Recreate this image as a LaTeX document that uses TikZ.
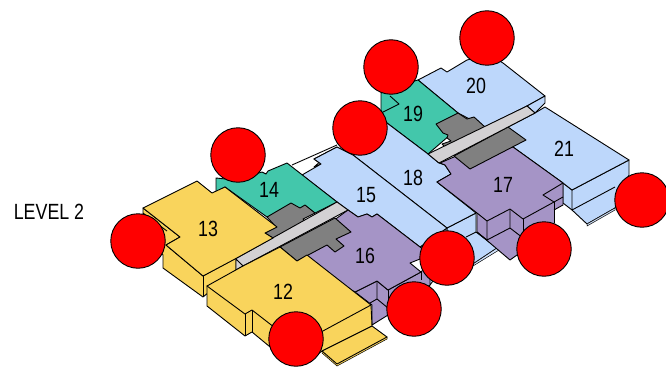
\documentclass[tikz,border=0pt]{standalone}
\usepackage{fontspec}
\setmainfont{Liberation Sans}
\newfontfamily\labelfont[FakeStretch=.81]{Liberation Sans}
\definecolor{unityellow}{HTML}{F9D45C}
\definecolor{unitteal}{HTML}{43C7AB}
\definecolor{unitblue}{HTML}{BDD7FB}
\definecolor{unitpurple}{HTML}{A594C6}
\definecolor{corridor}{HTML}{D3D1D3}
\definecolor{core}{HTML}{808080}
\tikzset{
  edge/.style={draw=black, line width=.9pt, line join=round},
  yellowpart/.style={edge, fill=unityellow},
  tealpart/.style={edge, fill=unitteal},
  bluepart/.style={edge, fill=unitblue},
  purplepart/.style={edge, fill=unitpurple},
  corepart/.style={edge, fill=core},
  corridorpart/.style={edge, fill=corridor},
  unitlabel/.style={inner sep=0pt, font=\labelfont\fontsize{22}{24}\selectfont},
  marker/.style={circle, draw=black, line width=.9pt, fill=red, minimum size=54.5pt, inner sep=0pt}
}
\begin{document}
\begin{tikzpicture}[x=1pt, y=-1pt]
\useasboundingbox (0,0) rectangle (666,369);
\node[unitlabel] (levellabel) at (49,212) {LEVEL 2};

\path[bluepart] (418,80)--(441,68)--(447,72)--(467,60)--(490,55)--(503,63)--(545,96)--(527,106)--(485,127)--(458,113)--cycle;
\path[bluepart] (545,96)--(545,103)--(535,113)--(527,106)--cycle;
\path[tealpart] (381,93)--(400,85)--(418,80)--(458,113)--(450,135)--(428,154)--(383,120)--(381,110)--cycle;
\draw[edge] (390,96)--(399,104)--(381,113);

\path[bluepart] (572,190)--(629,160)--(629,175)--(615,208)--(587,224)--(572,210)--(563,203)--(563,183)--cycle;
\draw[edge] (572,190)--(572,210)--(615,187);
\path[fill=unitblue!70!white, draw=black, line width=.5pt] (587,224)--(615,208)--(615,210)--(587,226)--cycle;
\path[bluepart] (535,113)--(545,107)--(629,160)--(572,190)--(563,183)--(513,147)--(508,127)--cycle;

\path[bluepart] (447,228)--(476,213)--(476,232)--(497,248)--(473,264)--(455,272)--(447,255)--cycle;
\draw[edge] (476,232)--(466,237);
\path[fill=unitblue!70!white, draw=black, line width=.5pt] (497,248)--(473,264)--(473,266)--(499,250)--cycle;
\path[bluepart] (353,155)--(383,120)--(428,154)--(439,163)--(445,165)--(451,174)--(437,182)--(476,213)--(447,228)--cycle;

\path[fill=unitpurple] (477,213)--(487,221)--(510,209)--(523,219)--(554,202)--(543,195)--(563,183)--(563,205)--(554,210)--(554,223)--(530,245)--(517,255)--(510,260)--(477,232)--cycle;
\draw[edge] (477,213)--(477,232)--(510,260)--(517,255);
\draw[edge] (563,183)--(563,205)--(554,210); \draw[edge] (554,202)--(554,223); \draw[edge] (554,202)--(563,197);
\draw[edge] (487,221)--(487,240)--(510,228); \draw[edge] (510,209)--(510,228)--(523,238);
\draw[edge] (523,219)--(523,238); \draw[edge] (477,232)--(487,240);
\path[purplepart] (440,163)--(445,165)--(451,174)--(437,182)--(477,213)--(487,221)--(510,209)--(523,219)--(554,202)--(543,195)--(563,183)--(513,147)--(470,150)--cycle;

\path[corepart] (458,113)--(436,124)--(443,133)--(448,135)--(447,138)--(451,141)--(442,144)--(445,147)--(472,134)--(485,127)--(474,117)--(467,119)--cycle;
\path[corepart] (508,127)--(526,140)--(470,169)--(454,156)--cycle;
\path[corridorpart] (527,106)--(535,113)--(439,163)--(428,154)--cycle;

\draw[edge] (292,165)--(337,145); \draw[edge] (337,147)--(314,159)--(321,164)--(314,167)--cycle;
\path[bluepart] (420,247)--(447,228)--(447,262)--(430,285)--cycle;
\path[bluepart] (302,175)--(321,164)--(314,159)--(337,147)--(353,155)--(447,228)--(420,247)--(377,214)--(372,217)--(367,214)--(358,217)--(348,210)--(337,202)--cycle;
\path[tealpart] (216,178)--(235,180)--(262,172)--(266,174)--(268,171)--(287,163)--(337,202)--(315,213)--(267,217)--(225,187)--(216,192)--cycle;

\path[purplepart] (355,292)--(377,281)--(388,290)--(421,272)--(430,262)--(430,285)--(410,300)--(388,315)--(372,325)--(372,305)--cycle;
\draw[edge] (377,281)--(377,299)--(370,303); \draw[edge] (377,299)--(388,308); \draw[edge] (388,290)--(388,315);
\draw[edge] (421,272)--(421,280);
\path[purplepart] (337,218)--(348,210)--(358,217)--(367,214)--(372,217)--(377,214)--(420,247)--(430,255)--(410,263)--(421,272)--(388,290)--(377,281)--(355,292)--(297,261)--cycle;

\path[corepart] (267,217)--(291,203)--(300,208)--(305,205)--(315,213)--(303,219)--(306,222)--(273,238)--(265,233)--(276,227)--cycle;
\path[corepart] (335,218)--(351,232)--(336,239)--(344,246)--(335,252)--(327,245)--(297,261)--(280,247)--cycle;
\path[corridorpart] (337,202)--(348,210)--(243,266)--(235,259)--cycle;

\path[yellowpart] (143,208)--(180,237)--(166,245)--(203,276)--(236,258)--(236,270)--(203,297)--(163,268)--(163,255)--(143,225)--cycle;
\draw[edge] (203,276)--(203,297); \draw[edge] (143,213)--(167,231);
\path[yellowpart] (143,208)--(197,181)--(212,193)--(225,187)--(277,227)--(265,233)--(273,238)--(235,259)--(203,276)--(166,245)--(180,237)--cycle;
\path[corridorpart] (236,259)--(243,266)--(236,270)--cycle;

\path[yellowpart] (207,286)--(207,306)--(245,336)--(252,332)--(275,351)--(310,360)--(322,351)--(372,326)--(371,305)--cycle;
\draw[edge] (245,314)--(245,336); \draw[edge] (252,310)--(252,332);
\path[yellowpart] (207,286)--(243,266)--(280,247)--(297,261)--(307,255)--(371,305)--(297,345)--(252,310)--(245,314)--cycle;
\path[fill=unityellow, draw=black, line width=.5pt] (387,337)--(387,339)--(337,366)--(322,353)--(322,351)--cycle;
\path[yellowpart] (372,326)--(387,337)--(337,364)--(322,351)--cycle;

\node[unitlabel] (unit12) at (283,292) {12};
\node[unitlabel] (unit13) at (208,229) {13};
\node[unitlabel] (unit14) at (269,190) {14};
\node[unitlabel] (unit15) at (366,195) {15};
\node[unitlabel] (unit16) at (365,256) {16};
\node[unitlabel] (unit17) at (503,185) {17};
\node[unitlabel] (unit18) at (413,178) {18};
\node[unitlabel] (unit19) at (413,114) {19};
\node[unitlabel] (unit20) at (476,86) {20};
\node[unitlabel] (unit21) at (564,149) {21};

\node[marker] (mark13) at (138,241) {};
\node[marker] (mark14) at (238,155) {};
\node[marker] (mark18) at (360,128) {};
\node[marker] (mark19) at (391,67) {};
\node[marker] (mark20) at (487,38) {};
\node[marker] (mark21) at (642,200) {};
\node[marker] (mark17) at (544,249) {};
\node[marker] (mark15) at (447,258) {};
\node[marker] (mark16) at (414,309) {};
\node[marker] (mark12) at (296,339) {};
\end{tikzpicture}
\end{document}
